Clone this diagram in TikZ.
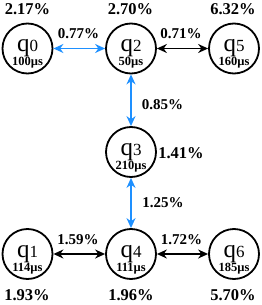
\documentclass[tikz,border=0pt]{standalone}
\usepackage{fontspec}
\setmainfont{Liberation Serif}
\usetikzlibrary{arrows.meta,calc}
\definecolor{qblue}{RGB}{30,144,255}
\tikzset{
  qubit/.style={circle,draw=black,line width=1.8pt,minimum size=50pt,inner sep=0pt},
  qname/.style={anchor=base,inner sep=0pt},
  qtime/.style={anchor=base,inner sep=0pt,font=\fontsize{12.5}{12.5}\selectfont\bfseries},
  nerr/.style={anchor=base,inner sep=0pt,font=\fontsize{16.5}{16.5}\selectfont\bfseries},
  eerr/.style={anchor=base,inner sep=0pt,font=\fontsize{15}{15}\selectfont\bfseries},
  blink/.style={line width=1.6pt,draw=black,{Stealth[length=10pt,width=9pt]}-{Stealth[length=10pt,width=9pt]}},
  bluelink/.style={blink,draw=qblue}
}
\newcommand{\qlab}[1]{{\fontsize{25}{25}\selectfont q}{\fontsize{17}{17}\selectfont #1}}
\begin{document}
\begin{tikzpicture}[x=1pt,y=1pt]
\useasboundingbox (0,0) rectangle (262,-305);
% qubits
\node[qubit] (q0) at (27.5,-48.5) {};
\node[qubit] (q2) at (131,-48.5) {};
\node[qubit] (q5) at (234,-48.5) {};
\node[qubit] (q3) at (131,-152) {};
\node[qubit] (q1) at (27.5,-254) {};
\node[qubit] (q4) at (131,-254) {};
\node[qubit] (q6) at (234,-254) {};
% names and times
\foreach \n/\d/\t in {q0/0/100,q2/2/50,q5/5/160,q3/3/210,q1/1/114,q4/4/111,q6/6/185}{
  \node[qname] (\n name) at ($(\n)+(0,-3.5)$) {\qlab{\d}};
  \node[qtime] (\n time) at ($(\n)+(0,-17.5)$) {\t µs};
}
% node error rates
\node[nerr] (e0) at (27.5,-14.5) {2.17\%};
\node[nerr] (e2) at (130.5,-14.5) {2.70\%};
\node[nerr] (e5) at (233,-14.5) {6.32\%};
\node[nerr] (e3) at (181,-158) {1.41\%};
\node[nerr] (e1) at (27,-300) {1.93\%};
\node[nerr] (e4) at (131,-300) {1.96\%};
\node[nerr] (e6) at (233,-300) {5.70\%};
% links
\draw[bluelink] (q0) -- (q2);
\draw[blink] (q2) -- (q5);
\draw[bluelink] (q2) -- (q3);
\draw[bluelink] (q3) -- (q4);
\draw[blink] (q1) -- (q4);
\draw[blink] (q4) -- (q6);
% link error rates
\node[eerr] (l02) at (78.5,-38) {0.77\%};
\node[eerr] (l25) at (181,-39) {0.71\%};
\node[eerr] (l23) at (162.5,-109) {0.85\%};
\node[eerr] (l34) at (163,-207) {1.25\%};
\node[eerr] (l14) at (78,-244) {1.59\%};
\node[eerr] (l46) at (181.5,-244) {1.72\%};
\end{tikzpicture}
\end{document}
